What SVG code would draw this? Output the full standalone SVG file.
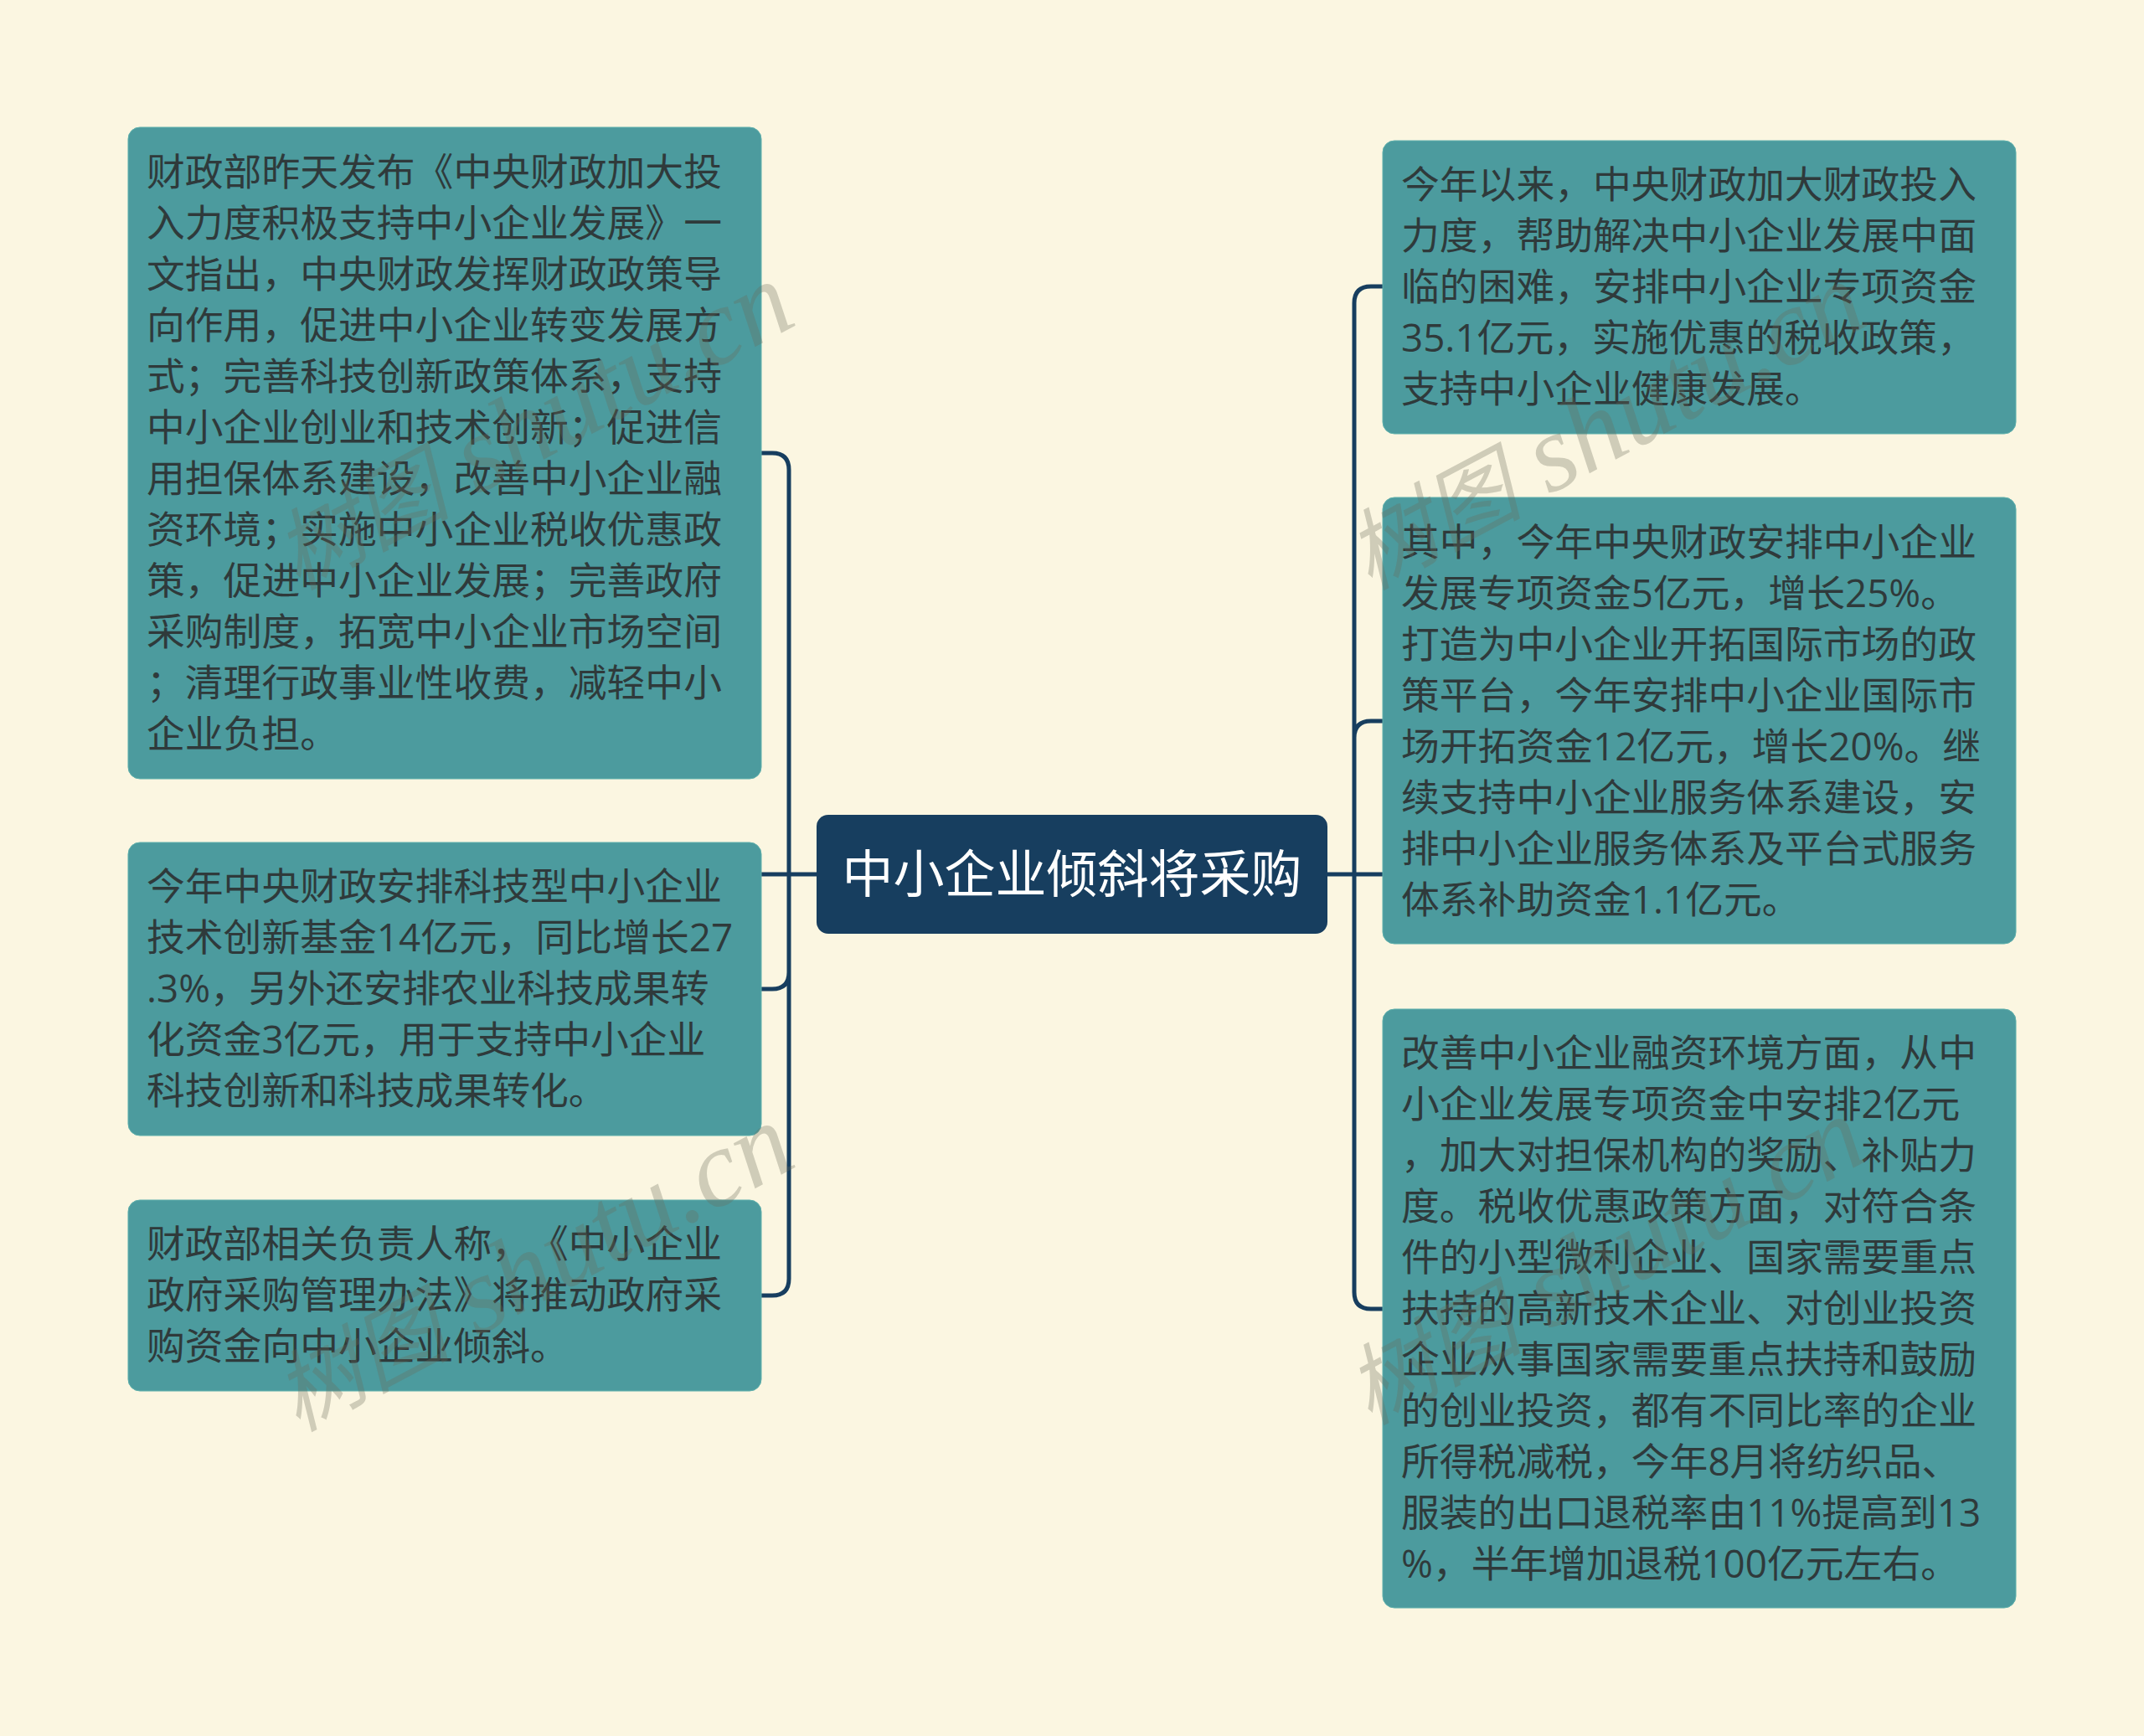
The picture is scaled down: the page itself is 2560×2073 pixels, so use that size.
<svg xmlns="http://www.w3.org/2000/svg" width="2560" height="2073" viewBox="0 0 2560 2073">
<style>
.n{fill:#4c9b9e;stroke:#5fb0ac;stroke-width:1}
.t{font-family:"Open Sans","Noto Sans CJK SC",sans-serif;font-size:45.8px;fill:#2f3a3b;text-spacing-trim:space-all;font-kerning:none}
.r{font-family:"Noto Sans CJK SC",sans-serif;font-size:61px;fill:#fff;text-spacing-trim:space-all}
.c{fill:none;stroke:#173e5f;stroke-width:5}
.w{font-family:"Liberation Serif","Noto Sans CJK SC",serif;font-style:italic;font-size:130px;fill:#6b6b58;fill-opacity:.3}
.z{font-size:105px}
</style>
<rect width="2560" height="2073" fill="#fbf6e1"/>
<g id="connectors">
<path class="c" d="M975 1044H909M942 1044V561Q942 541 922 541H909M942 1044V1161Q942 1181 922 1181H909M942 1044V1527Q942 1547 922 1547H909"/>
<path class="c" d="M1585 1044H1651M1617 1044V362Q1617 342 1637 342H1651M1617 1044V881Q1617 861 1637 861H1651M1617 1044V1543Q1617 1563 1637 1563H1651"/>
</g>
<g id="root"><rect x="975" y="973" width="610" height="142" rx="14" fill="#173e5f"/>
<text class="r" x="1280" y="1066" text-anchor="middle">中小企业倾斜将采购</text></g>
<g id="n1"><rect class="n" x="153" y="152" width="756" height="778" rx="14"/>
<text class="t"><tspan x="175" y="222">财政部昨天发布《中央财政加大投</tspan><tspan x="175" y="283">入力度积极支持中小企业发展》一</tspan><tspan x="175" y="344">文指出，中央财政发挥财政政策导</tspan><tspan x="175" y="405">向作用，促进中小企业转变发展方</tspan><tspan x="175" y="466">式；完善科技创新政策体系，支持</tspan><tspan x="175" y="527">中小企业创业和技术创新；促进信</tspan><tspan x="175" y="588">用担保体系建设，改善中小企业融</tspan><tspan x="175" y="649">资环境；实施中小企业税收优惠政</tspan><tspan x="175" y="710">策，促进中小企业发展；完善政府</tspan><tspan x="175" y="771">采购制度，拓宽中小企业市场空间</tspan><tspan x="175" y="832">；清理行政事业性收费，减轻中小</tspan><tspan x="175" y="893">企业负担。</tspan></text></g>
<g id="n2"><rect class="n" x="153" y="1006" width="756" height="350" rx="14"/>
<text class="t"><tspan x="175" y="1075">今年中央财政安排科技型中小企业</tspan><tspan x="175" y="1136">技术创新基金14亿元，同比增长27</tspan><tspan x="175" y="1197">.3%，另外还安排农业科技成果转</tspan><tspan x="175" y="1258">化资金3亿元，用于支持中小企业</tspan><tspan x="175" y="1319">科技创新和科技成果转化。</tspan></text></g>
<g id="n3"><rect class="n" x="153" y="1433" width="756" height="228" rx="14"/>
<text class="t"><tspan x="175" y="1502">财政部相关负责人称，《中小企业</tspan><tspan x="175" y="1563">政府采购管理办法》将推动政府采</tspan><tspan x="175" y="1624">购资金向中小企业倾斜。</tspan></text></g>
<g id="n4"><rect class="n" x="1651" y="168" width="756" height="350" rx="14"/>
<text class="t"><tspan x="1673" y="237">今年以来，中央财政加大财政投入</tspan><tspan x="1673" y="298">力度，帮助解决中小企业发展中面</tspan><tspan x="1673" y="359">临的困难，安排中小企业专项资金</tspan><tspan x="1673" y="420">35.1亿元，实施优惠的税收政策，</tspan><tspan x="1673" y="481">支持中小企业健康发展。</tspan></text></g>
<g id="n5"><rect class="n" x="1651" y="594" width="756" height="533" rx="14"/>
<text class="t"><tspan x="1673" y="664">其中，今年中央财政安排中小企业</tspan><tspan x="1673" y="725">发展专项资金5亿元，增长25%。</tspan><tspan x="1673" y="786">打造为中小企业开拓国际市场的政</tspan><tspan x="1673" y="847">策平台，今年安排中小企业国际市</tspan><tspan x="1673" y="908">场开拓资金12亿元，增长20%。继</tspan><tspan x="1673" y="969">续支持中小企业服务体系建设，安</tspan><tspan x="1673" y="1030">排中小企业服务体系及平台式服务</tspan><tspan x="1673" y="1091">体系补助资金1.1亿元。</tspan></text></g>
<g id="n6"><rect class="n" x="1651" y="1205" width="756" height="715" rx="14"/>
<text class="t"><tspan x="1673" y="1274">改善中小企业融资环境方面，从中</tspan><tspan x="1673" y="1335">小企业发展专项资金中安排2亿元</tspan><tspan x="1673" y="1396">，加大对担保机构的奖励、补贴力</tspan><tspan x="1673" y="1457">度。税收优惠政策方面，对符合条</tspan><tspan x="1673" y="1518">件的小型微利企业、国家需要重点</tspan><tspan x="1673" y="1579">扶持的高新技术企业、对创业投资</tspan><tspan x="1673" y="1640">企业从事国家需要重点扶持和鼓励</tspan><tspan x="1673" y="1701">的创业投资，都有不同比率的企业</tspan><tspan x="1673" y="1762">所得税减税，今年8月将纺织品、</tspan><tspan x="1673" y="1823">服装的出口退税率由11%提高到13</tspan><tspan x="1673" y="1884">%，半年增加退税100亿元左右。</tspan></text></g>
<g id="watermarks">
<text class="w" transform="translate(355 705) rotate(-28)"><tspan class="z">树图</tspan> shutu.cn</text>
<text class="w" transform="translate(1635 705) rotate(-28)"><tspan class="z">树图</tspan> shutu.cn</text>
<text class="w" transform="translate(355 1710) rotate(-28)"><tspan class="z">树图</tspan> shutu.cn</text>
<text class="w" transform="translate(1635 1702) rotate(-28)"><tspan class="z">树图</tspan> shutu.cn</text>
</g>
</svg>
